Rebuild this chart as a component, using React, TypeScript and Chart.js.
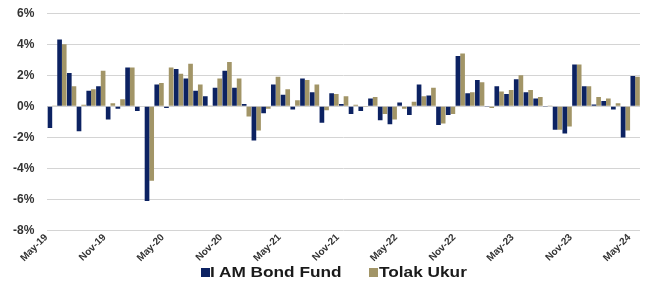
import React, { useEffect, useRef } from "react";
import { Chart, registerables } from "chart.js";

Chart.register(...registerables);

const months: string[] = [
  "May-19","Jun-19","Jul-19","Aug-19","Sep-19","Oct-19","Nov-19","Dec-19",
  "Jan-20","Feb-20","Mar-20","Apr-20","May-20","Jun-20","Jul-20","Aug-20","Sep-20","Oct-20","Nov-20","Dec-20",
  "Jan-21","Feb-21","Mar-21","Apr-21","May-21","Jun-21","Jul-21","Aug-21","Sep-21","Oct-21","Nov-21","Dec-21",
  "Jan-22","Feb-22","Mar-22","Apr-22","May-22","Jun-22","Jul-22","Aug-22","Sep-22","Oct-22","Nov-22","Dec-22",
  "Jan-23","Feb-23","Mar-23","Apr-23","May-23","Jun-23","Jul-23","Aug-23","Sep-23","Oct-23","Nov-23","Dec-23",
  "Jan-24","Feb-24","Mar-24","Apr-24","May-24",
];

const bondFund: number[] = [
  -1.4, 4.3, 2.15, -1.6, 1.0, 1.3, -0.85, -0.15,
  2.5, -0.3, -6.1, 1.4, -0.1, 2.4, 1.8, 1.0, 0.65, 1.2, 2.3, 1.2,
  0.15, -2.2, -0.45, 1.4, 0.75, -0.2, 1.8, 0.9, -1.05, 0.85, 0.15, -0.5,
  -0.3, 0.5, -0.9, -1.15, 0.25, -0.55, 1.4, 0.7, -1.2, -0.55, 3.25, 0.85,
  1.7, -0.05, 1.3, 0.8, 1.75, 0.9, 0.5, -0.05, -1.5, -1.75, 2.7, 1.3,
  0.12, 0.35, -0.2, -2.0, 1.95,
];

const tolakUkur: number[] = [
  0.05, 4.0, 1.3, 0.1, 1.1, 2.3, 0.2, 0.45,
  2.5, -0.03, -4.8, 1.5, 2.5, 2.1, 2.75, 1.4, 0.03, 1.8, 2.85, 1.8,
  -0.65, -1.55, -0.15, 1.9, 1.1, 0.4, 1.7, 1.4, -0.25, 0.8, 0.65, 0.1,
  -0.05, 0.6, -0.5, -0.85, -0.15, 0.3, 0.65, 1.2, -1.1, -0.5, 3.4, 0.9,
  1.55, -0.1, 0.95, 1.05, 2.0, 1.05, 0.6, 0.03, -1.5, -1.3, 2.7, 1.3,
  0.6, 0.5, 0.2, -1.55, 1.9,
];

const seriesNames: string[] = ["I AM Bond Fund", "Tolak Ukur"];

const yMin = -8;
const yMax = 6;
const yStep = 2;

const NAVY = "#0c2262";
const TAN = "#a29567";
const FONT = "'Liberation Sans', Arial, sans-serif";

export default function App() {
  const ref = useRef<HTMLCanvasElement | null>(null);

  useEffect(() => {
    if (!ref.current) return;
    const chart = new Chart(ref.current, {
      type: "bar",
      data: {
        labels: months,
        datasets: [
          { label: seriesNames[0], data: bondFund, backgroundColor: NAVY, borderWidth: 0 },
          { label: seriesNames[1], data: tolakUkur, backgroundColor: TAN, borderWidth: 0 },
        ],
      },
      options: {
        animation: false,
        responsive: false,
        maintainAspectRatio: false,
        layout: { padding: { left: 0, right: 10, top: 0, bottom: 28 } },
        datasets: { bar: { categoryPercentage: 0.96, barPercentage: 1.0 } },
        plugins: {
          legend: { display: false },
          tooltip: { enabled: false },
        },
        scales: {
          x: {
            offset: true,
            grid: { display: false, drawTicks: false },
            border: { display: false },
            ticks: {
              autoSkip: false,
              maxRotation: 45,
              minRotation: 45,
              padding: 1,
              labelOffset: -6,
              color: "#333333",
              font: { family: FONT, size: 10, weight: "bold" },
              callback: function (_v: any, i: number) {
                return i % 6 === 0 ? months[i] : "";
              },
            },
          },
          y: {
            min: yMin,
            max: yMax,
            grid: { color: "#d4d4d4", lineWidth: 1, drawTicks: false },
            border: { display: false },
            ticks: {
              stepSize: yStep,
              padding: 13,
              color: "#333333",
              font: { family: FONT, size: 12, weight: "bold" },
              callback: (v: any) => `${v}%`,
            },
          },
        },
      },
    });
    return () => chart.destroy();
  }, []);

  const legendText: React.CSSProperties = {
    position: "absolute",
    top: 0,
    fontFamily: FONT,
    fontWeight: "bold",
    fontSize: 15,
    lineHeight: "16px",
    color: "#1a1a1a",
    whiteSpace: "nowrap",
    transform: "scaleX(1.15)",
    transformOrigin: "left center",
  };
  const box = (c: string, left: number): React.CSSProperties => ({
    position: "absolute",
    left,
    top: 4,
    width: 9,
    height: 9,
    background: c,
  });

  return (
    <div style={{ position: "fixed", left: 0, top: 0, width: 650, height: 288, background: "#ffffff", overflow: "hidden" }}>
      <canvas
        ref={ref}
        width={650}
        height={300}
        style={{ position: "absolute", left: 0, top: -7, width: 650, height: 300 }}
      />
      <div style={{ position: "absolute", left: 0, top: 264, width: 650, height: 18 }}>
        <div style={box(NAVY, 201)} />
        <div style={{ ...legendText, left: 210 }}>{seriesNames[0]}</div>
        <div style={box(TAN, 369)} />
        <div style={{ ...legendText, left: 379 }}>{seriesNames[1]}</div>
      </div>
    </div>
  );
}
